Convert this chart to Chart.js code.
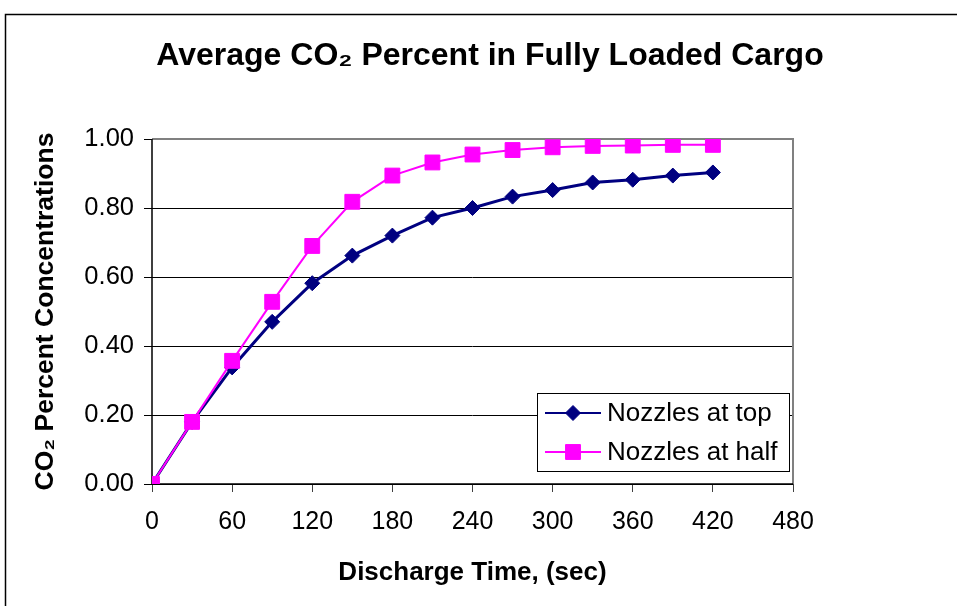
<!DOCTYPE html>
<html>
<head>
<meta charset="utf-8">
<script src="https://cdn.jsdelivr.net/npm/chart.js@4.4.1/dist/chart.umd.min.js"></script>
<style>
  html, body { margin: 0; padding: 0; background: #fff; }
  #wrap { position: relative; width: 957px; height: 606px; }
  canvas { display: block; }
</style>
</head>
<body>
<div id="wrap"><canvas id="c" width="957" height="606"></canvas></div>
<script>
const chartTitle = 'Average CO\u2082 Percent in Fully Loaded Cargo';
const xAxisTitle = 'Discharge Time, (sec)';
const yAxisTitle = 'CO\u2082 Percent Concentrations';
const seriesNames = ['Nozzles at top', 'Nozzles at half'];
const times = [0, 30, 60, 90, 120, 150, 180, 210, 240, 270, 300, 330, 360, 390, 420];
const nozzlesTop = [0, 0.18, 0.338, 0.47, 0.582, 0.662, 0.72, 0.772, 0.80, 0.833, 0.852, 0.874, 0.882, 0.894, 0.903];
const nozzlesHalf = [0, 0.18, 0.357, 0.528, 0.69, 0.818, 0.894, 0.932, 0.955, 0.968, 0.976, 0.980, 0.981, 0.983, 0.983];

const FONT = "'Liberation Sans', Arial, sans-serif";

const frameAndBorder = {
  id: 'frameAndBorder',
  afterLayout(chart) {
    // centre the title over the whole framed chart, not only the padded area
    if (chart.titleBlock) {
      chart.titleBlock.left = 23;
      chart.titleBlock.right = 957;
      chart.titleBlock.width = 934;
    }
  },
  beforeDraw(chart) {
    const ctx = chart.ctx;
    ctx.save();
    ctx.fillStyle = '#fff';
    ctx.fillRect(0, 0, chart.width, chart.height);
    ctx.strokeStyle = '#000';
    ctx.lineWidth = 1.5;
    ctx.beginPath();
    ctx.moveTo(5.5, chart.height + 2);
    ctx.lineTo(5.5, 14.5);
    ctx.lineTo(chart.width + 2, 14.5);
    ctx.stroke();
    ctx.restore();
  },
  beforeDatasetsDraw(chart) {
    const {ctx, chartArea: a} = chart;
    ctx.save();
    ctx.strokeStyle = '#808080';
    ctx.lineWidth = 2;
    ctx.beginPath();
    ctx.moveTo(a.left, a.top);
    ctx.lineTo(a.right, a.top);
    ctx.lineTo(a.right, a.bottom);
    ctx.stroke();
    ctx.strokeStyle = '#000';
    ctx.lineWidth = 1.5;
    ctx.beginPath();
    ctx.moveTo(a.left, a.top);
    ctx.lineTo(a.left, a.bottom);
    ctx.lineTo(a.right, a.bottom);
    ctx.stroke();
    ctx.restore();
  }
};

const boxLegend = {
  id: 'boxLegend',
  afterDraw(chart) {
    const {ctx, chartArea: a} = chart;
    const w = 252, h = 78;
    const x0 = a.right - 4 - w, y0 = a.bottom - 13 - h;
    ctx.save();
    ctx.fillStyle = '#fff';
    ctx.fillRect(x0, y0, w, h);
    ctx.strokeStyle = '#000';
    ctx.lineWidth = 1;
    ctx.strokeRect(Math.round(x0) + 0.5, Math.round(y0) + 0.5, w, h);
    chart.data.datasets.forEach((ds, i) => {
      const cy = y0 + 20 + i * 39;
      ctx.strokeStyle = ds.borderColor;
      ctx.lineWidth = 2;
      ctx.beginPath();
      ctx.moveTo(x0 + 8, cy);
      ctx.lineTo(x0 + 64, cy);
      ctx.stroke();
      ctx.fillStyle = ds.pointBackgroundColor;
      ctx.strokeStyle = ds.pointBorderColor;
      ctx.lineWidth = 1;
      Chart.helpers.drawPoint(ctx, {
        pointStyle: ds.pointStyle, radius: ds.pointRadius, rotation: 0, borderWidth: 1
      }, x0 + 36, cy);
      ctx.fillStyle = '#000';
      ctx.font = '26px ' + FONT;
      ctx.textAlign = 'left';
      ctx.textBaseline = 'middle';
      ctx.fillText(ds.label, x0 + 70, cy + 1);
    });
    ctx.restore();
  }
};

new Chart(document.getElementById('c'), {
  type: 'line',
  data: {
    datasets: [
      {
        label: seriesNames[0],
        data: times.map((t, i) => ({x: t, y: nozzlesTop[i]})),
        borderColor: '#000080',
        backgroundColor: '#000080',
        pointBackgroundColor: '#000080',
        pointBorderColor: '#000080',
        borderWidth: 3,
        pointStyle: 'rectRot',
        pointRadius: 7.5,
        pointBorderWidth: 1,
        tension: 0,
        order: 1
      },
      {
        label: seriesNames[1],
        data: times.map((t, i) => ({x: t, y: nozzlesHalf[i]})),
        borderColor: '#FF00FF',
        backgroundColor: '#FF00FF',
        pointBackgroundColor: '#FF00FF',
        pointBorderColor: '#FF00FF',
        borderWidth: 2,
        pointStyle: 'rect',
        pointRadius: 10.5,
        pointBorderWidth: 1,
        tension: 0,
        order: 0
      }
    ]
  },
  options: {
    responsive: false,
    animation: false,
    layout: { padding: { left: 0, right: 164, top: 0, bottom: 0 } },
    plugins: {
      legend: { display: false },
      tooltip: { enabled: false },
      title: {
        display: true,
        text: chartTitle,
        color: '#000',
        font: { family: FONT, size: 32, weight: 'bold', lineHeight: 1.2 },
        padding: { top: 37, bottom: 63.6 }
      }
    },
    scales: {
      x: {
        type: 'linear',
        min: 0, max: 480,
        afterFit(scale) { scale.height = 122; },
        ticks: { stepSize: 60, color: '#000', padding: 15, maxRotation: 0,
                 font: { family: FONT, size: 25 } },
        grid: { drawOnChartArea: false, drawTicks: true, tickLength: 8, color: '#404040', lineWidth: 1 },
        border: { display: false },
        title: { display: true, text: xAxisTitle, color: '#000',
                 font: { family: FONT, size: 26, weight: 'bold', lineHeight: 1.2 },
                 padding: { top: 0, bottom: 18 } }
      },
      y: {
        min: 0, max: 1,
        afterFit(scale) { scale.width = 152; },
        ticks: { stepSize: 0.2, color: '#000', padding: 10,
                 font: { family: FONT, size: 25.5 },
                 callback: v => Number(v).toFixed(2) },
        grid: { color: '#000', lineWidth: 1, drawTicks: true, tickLength: 8 },
        border: { display: false },
        title: { display: true, text: yAxisTitle, color: '#000',
                 font: { family: FONT, size: 26.5, weight: 'bold', lineHeight: 1.2 },
                 padding: { top: 30, bottom: 0 } }
      }
    }
  },
  plugins: [frameAndBorder, boxLegend]
});
</script>
</body>
</html>
